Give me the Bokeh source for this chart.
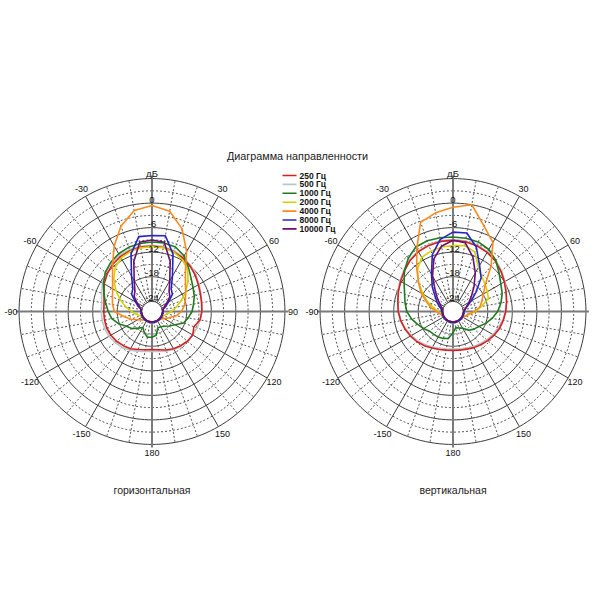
import math
from bokeh.plotting import figure
from bokeh.models import Range1d
from bokeh.embed import file_html
from bokeh.resources import INLINE
from bokeh.core.properties import value

# ---------------- data ----------------
ANGLES = [-180, -170, -160, -150, -140, -130, -120, -110, -100, -90, -80, -70, -60, -50, -40, -30, -20, -10,
          0, 10, 20, 30, 40, 50, 60, 70, 80, 90, 100, 110, 120, 130, 140, 150, 160, 170, 180]

FREQ_LABELS = ["250 Гц", "500 Гц", "1000 Гц", "2000 Гц", "4000 Гц", "8000 Гц", "10000 Гц"]

# horizontal plane (dB)
H_250 = [-17.2, -17.0, -16.6, -16.0, -15.6, -15.2, -14.9, -14.7, -14.7, -14.7, -14.6, -14.0, -13.0, -12.2, -11.5, -11.0, -10.7, -10.5,
         -10.5, -10.6, -10.9, -11.4, -12.0, -12.7, -13.4, -13.9, -14.2, -14.3, -14.6, -15.6, -15.0, -15.2, -15.6, -16.0, -16.5, -17.0, -17.2]
H_500 = [-16.8, -16.6, -16.2, -15.6, -15.1, -14.7, -14.4, -14.2, -14.1, -14.1, -14.0, -13.4, -12.5, -11.7, -11.0, -10.6, -10.4, -10.3,
         -10.3, -10.4, -10.7, -11.2, -11.8, -12.5, -13.2, -13.8, -14.1, -14.3, -14.5, -14.8, -15.0, -15.1, -15.4, -15.8, -16.2, -16.6, -16.8]
H_1000 = [-20.2, -20.1, -21.0, -22.0, -21.2, -20.0, -19.3, -17.8, -16.5, -15.8, -15.0, -14.0, -12.8, -11.6, -10.8, -10.2, -9.8, -9.6,
          -9.5, -9.5, -9.7, -10.8, -12.6, -14.0, -14.9, -15.5, -16.2, -16.7, -17.5, -18.3, -20.0, -21.0, -21.8, -22.2, -22.3, -20.6, -20.2]
H_2000 = [-23.8, -23.8, -23.8, -23.8, -23.8, -23.8, -23.8, -23.5, -22.6, -21.5, -20.0, -18.3, -16.3, -14.3, -12.5, -11.4, -10.9, -10.7,
          -10.6, -10.7, -11.0, -11.8, -13.0, -15.0, -17.0, -19.0, -20.5, -21.8, -22.8, -23.5, -23.8, -23.8, -23.8, -23.8, -23.8, -23.8, -23.8]
H_4000 = [-23.8, -23.8, -23.8, -23.8, -23.8, -23.3, -22.5, -21.0, -19.5, -17.3, -16.7, -16.2, -15.4, -13.9, -11.5, -8.0, -4.3, -1.4,
          -0.6, -1.6, -5.0, -9.6, -13.8, -15.8, -17.0, -17.8, -18.5, -19.3, -20.5, -22.0, -23.0, -23.8, -23.8, -23.8, -23.8, -23.8, -23.8]
H_8000 = [-23.8, -23.8, -23.8, -23.8, -23.8, -23.8, -23.8, -23.8, -23.8, -23.8, -23.8, -23.0, -21.8, -20.0, -19.2, -16.5, -11.5, -7.9,
          -7.9, -7.7, -11.5, -16.5, -19.2, -20.0, -21.8, -23.0, -23.8, -23.8, -23.8, -23.8, -23.8, -23.8, -23.8, -23.8, -23.8, -23.8, -23.8]
H_10000 = [-24.0, -24.0, -24.0, -24.0, -24.0, -24.0, -24.0, -24.0, -24.0, -23.8, -23.8, -23.3, -22.3, -20.8, -20.0, -17.8, -13.5, -9.3,
           -9.0, -9.3, -13.5, -17.8, -20.0, -20.8, -22.3, -23.3, -23.8, -23.8, -24.0, -24.0, -24.0, -24.0, -24.0, -24.0, -24.0, -24.0, -24.0]

# vertical plane (dB)
V_250 = [-17.0, -16.9, -16.6, -16.2, -15.6, -15.0, -14.5, -14.0, -13.5, -13.1, -12.8, -12.3, -11.7, -11.0, -10.2, -9.6, -9.3, -9.1,
         -9.1, -9.2, -9.4, -9.8, -10.4, -11.2, -12.0, -12.7, -13.2, -13.6, -14.0, -14.4, -14.9, -15.4, -15.9, -16.3, -16.7, -16.9, -17.0]
V_500 = [-17.3, -17.2, -16.9, -16.5, -15.9, -15.3, -14.7, -14.1, -13.6, -13.2, -12.8, -12.2, -11.5, -10.8, -10.0, -9.4, -9.1, -8.9,
         -8.9, -9.0, -9.2, -9.6, -10.2, -11.0, -11.8, -12.6, -13.2, -13.7, -14.2, -14.7, -15.2, -15.7, -16.2, -16.6, -17.0, -17.2, -17.3]
V_1000 = [-21.3, -19.8, -19.5, -19.3, -19.2, -19.0, -18.2, -17.3, -16.2, -15.2, -14.6, -13.9, -12.7, -11.0, -9.5, -8.3, -8.1, -8.2,
          -8.3, -8.3, -8.4, -9.0, -10.2, -11.8, -13.0, -13.7, -14.6, -15.6, -16.8, -18.0, -19.2, -19.8, -20.5, -21.8, -22.2, -22.5, -21.3]
V_2000 = [-23.8, -23.8, -23.8, -23.8, -23.8, -23.8, -23.8, -23.8, -23.5, -22.8, -21.8, -20.0, -18.0, -15.5, -13.0, -11.2, -10.8, -10.5,
          -10.4, -10.1, -11.0, -14.0, -15.5, -16.2, -16.8, -17.3, -19.5, -21.0, -22.5, -23.3, -23.8, -23.8, -23.8, -23.8, -23.8, -23.8, -23.8]
V_4000 = [-23.8, -23.8, -23.8, -23.8, -23.8, -23.8, -23.8, -23.6, -23.3, -22.5, -21.0, -19.6, -17.5, -15.5, -12.7, -8.8, -3.3, -2.0,
          -1.0, 0.0, -4.3, -7.0, -12.0, -16.2, -17.9, -19.0, -19.8, -21.3, -22.6, -23.3, -23.8, -23.8, -23.8, -23.8, -23.8, -23.8, -23.8]
V_8000 = [-23.8, -23.8, -23.8, -23.8, -23.8, -23.8, -23.8, -23.8, -23.8, -23.8, -23.6, -23.0, -22.0, -20.8, -18.6, -16.0, -11.7, -8.6,
          -7.1, -7.0, -9.8, -13.5, -15.8, -19.2, -21.4, -22.8, -23.5, -23.8, -23.8, -23.8, -23.8, -23.8, -23.8, -23.8, -23.8, -23.8, -23.8]
V_10000 = [-24.0, -24.0, -24.0, -24.0, -24.0, -24.0, -24.0, -24.0, -24.0, -24.0, -23.9, -23.5, -22.8, -21.5, -19.7, -16.5, -12.8, -10.3,
           -9.1, -9.4, -12.3, -15.6, -18.5, -20.6, -22.0, -23.0, -23.6, -23.9, -24.0, -24.0, -24.0, -24.0, -24.0, -24.0, -24.0, -24.0, -24.0]

HORIZONTAL = [H_250, H_500, H_1000, H_2000, H_4000, H_8000, H_10000]
VERTICAL = [V_250, V_500, V_1000, V_2000, V_4000, V_8000, V_10000]

# angle tick labels (the right chart's "90" falls outside the picture)
ANGLE_TICKS_H = [-150, -120, -90, -60, -30, 30, 60, 90, 120, 150, 180]
ANGLE_LABELS_H = ["-150", "-120", "-90", "-60", "-30", "30", "60", "90", "120", "150", "180"]
ANGLE_TICKS_V = [-150, -120, -90, -60, -30, 30, 60, 120, 150, 180]
ANGLE_LABELS_V = ["-150", "-120", "-90", "-60", "-30", "30", "60", "120", "150", "180"]
DB_TICKS = [0, -6, -12, -18, -24]
DB_TICK_LABELS = ["0", "-6", "-12", "-18", "-24"]
SOLID_RINGS = [6, 0, -6, -12, -18]
DOTTED_RINGS = [3, -3, -9, -15, -21]
DB_UNIT = "дБ"
TITLE = "Диаграмма направленности"
SUBTITLES = ["горизонтальная", "вертикальная"]

# ---------------- styling / layout ----------------
COLORS = ["#d81e1e", "#b9c6cb", "#1f7a1f", "#d2d200", "#ff8a1a", "#2424c8", "#6a1070"]
DRAW_ORDER = [1, 0, 2, 3, 4, 5, 6]
FONT = value("Liberation Sans")
SCALE = 4.09          # pixels per dB
DB_FLOOR = -26.5      # dB value at the very centre
CENTERS = [(151.5, 289.0), (452.5, 289.0)]
GRID_COL = "#3c3c3c"


def rad(db):
    return (db - DB_FLOOR) * SCALE


def pxy(c, ang, r):
    a = math.radians(ang)
    return c[0] + r * math.sin(a), c[1] + r * math.cos(a)


p = figure(width=592, height=592, x_range=Range1d(0, 592), y_range=Range1d(8, 600),
           output_backend="svg", toolbar_location=None, min_border=0,
           x_axis_location=None, y_axis_location=None)
p.grid.visible = False
p.outline_line_color = None
p.background_fill_color = "white"

for ci, c in enumerate(CENTERS):
    # rings
    def ring(db):
        pts = [pxy(c, a, rad(db)) for a in range(0, 361, 2)]
        return [q[0] for q in pts], [q[1] for q in pts]
    sx, sy = zip(*[ring(d) for d in SOLID_RINGS])
    p.multi_line(list(sx), list(sy), line_color=GRID_COL, line_width=1)
    dx, dy = zip(*[ring(d) for d in DOTTED_RINGS])
    p.multi_line(list(dx), list(dy), line_color="#555555", line_width=1, line_dash="2 2")
    # spokes
    r0, r1 = rad(-24), rad(6)
    xs_s, ys_s, xs_d, ys_d = [], [], [], []
    for a in range(0, 360, 10):
        (x0, y0), (x1, y1) = pxy(c, a, r0), pxy(c, a, r1)
        if a % 90 == 0:
            continue
        if a % 30 == 0:
            xs_s.append([x0, x1]); ys_s.append([y0, y1])
        else:
            xs_d.append([x0, x1]); ys_d.append([y0, y1])
    p.multi_line(xs_s, ys_s, line_color=GRID_COL, line_width=1)
    p.multi_line(xs_d, ys_d, line_color="#555555", line_width=1, line_dash="2 2")
    # main axes
    ax_r = rad(6) + 3
    ax_xs, ax_ys = [], []
    for a in (0, 90):
        (x0, y0), (x1, y1) = pxy(c, a, ax_r), pxy(c, a + 180, ax_r)
        ax_xs.append([x0, x1]); ax_ys.append([y0, y1])
    p.multi_line(ax_xs, ax_ys, line_color="#7a7a7a", line_width=2)
    # inner disc
    p.circle(x=[c[0]], y=[c[1]], radius=rad(-24), fill_color="white", line_color=GRID_COL, line_width=1)

    # curves
    data = HORIZONTAL if ci == 0 else VERTICAL
    for si in DRAW_ORDER:
        vals = data[si]
        pts = [pxy(c, a, rad(v)) for a, v in zip(ANGLES, vals)]
        p.line([q[0] for q in pts], [q[1] for q in pts], line_color=COLORS[si], line_width=1.6,
               line_join="round")

    # dB labels
    lx, ly = [], []
    for d in DB_TICKS:
        x, y = pxy(c, 0, rad(d) + 0.5)
        lx.append(x); ly.append(y)
    p.text(lx, ly, text=DB_TICK_LABELS, text_font=FONT, text_font_size=value("9.5px"),
           text_align="center", text_baseline="bottom", text_color="#111111")
    ux, uy = pxy(c, 0, 138)
    p.text([ux], [uy], text=[DB_UNIT], text_font=FONT, text_font_size=value("9.5px"),
           text_align="center", text_baseline="middle", text_color="#111111")
    # angle labels
    ticks = ANGLE_TICKS_H if ci == 0 else ANGLE_TICKS_V
    labels = ANGLE_LABELS_H if ci == 0 else ANGLE_LABELS_V
    tx, ty = [], []
    for a in ticks:
        x, y = pxy(c, a, 141)
        tx.append(x); ty.append(y)
    p.text(tx, ty, text=labels, text_font=FONT, text_font_size=value("9px"),
           text_align="center", text_baseline="middle", text_color="#111111")
    # subtitle
    p.text([c[0]], [c[1] - 178], text=[SUBTITLES[ci]], text_font=FONT, text_font_size=value("10.5px"),
           text_align="center", text_baseline="middle", text_color="#222222")

# title
p.text([297], [445], text=[TITLE], text_font=FONT, text_font_size=value("10.8px"),
       text_align="center", text_baseline="middle", text_color="#222222")

# legend
LX0, LX1, LTX, LY0, LDY = 282, 296, 299, 425, 8.9
for i, lab in enumerate(FREQ_LABELS):
    yy = LY0 - i * LDY
    p.line([LX0, LX1], [yy, yy], line_color=COLORS[i], line_width=1.6)
p.text([LTX] * len(FREQ_LABELS), [LY0 - i * LDY for i in range(len(FREQ_LABELS))], text=FREQ_LABELS,
       text_font=FONT, text_font_size=value("8.5px"), text_font_style="bold",
       text_align="left", text_baseline="middle", text_color="#111111")

open("out.html", "w").write(file_html(p, INLINE))
